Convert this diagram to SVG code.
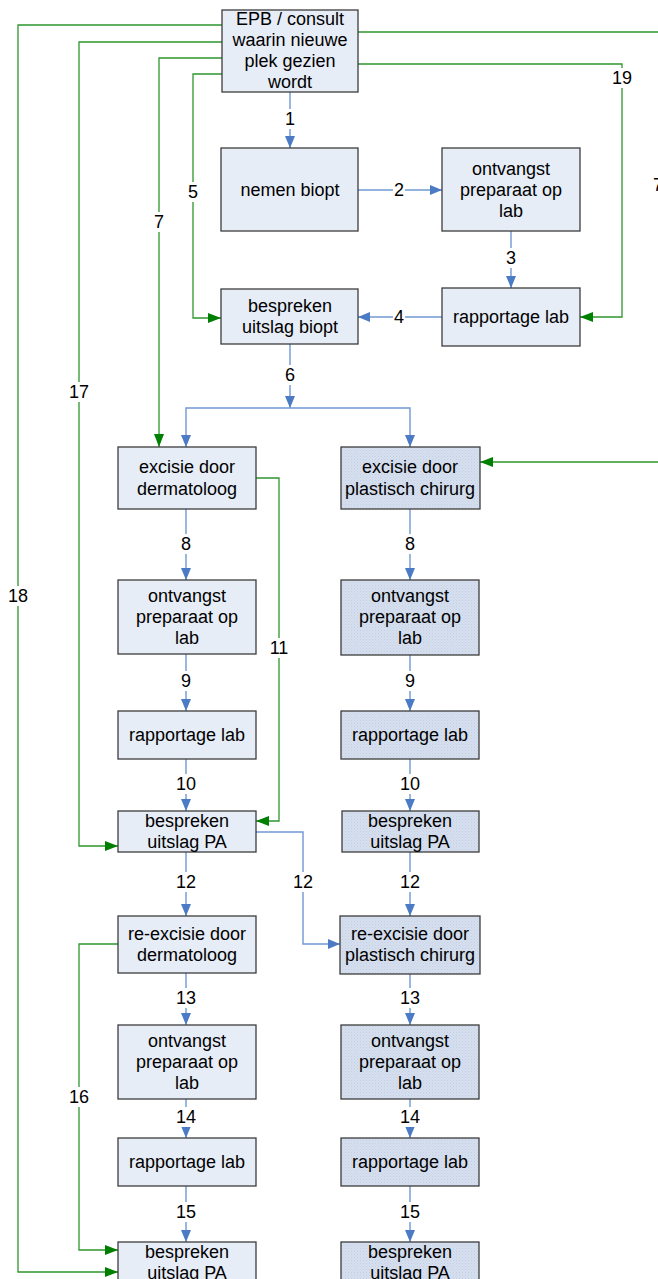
<svg xmlns="http://www.w3.org/2000/svg" width="658" height="1279" viewBox="0 0 658 1279">
  <style>
    .box { fill: #E7EDF7; stroke: #3C3C3C; stroke-width: 1.3; }
    .box2 { fill: url(#hatch); stroke: #3C3C3C; stroke-width: 1.3; }
    .t { font-family: "Liberation Sans", Arial, sans-serif; font-size: 18px; fill: #000; text-anchor: middle; }
    .blue { fill: none; stroke: #6F98D3; stroke-width: 1.4; marker-end: url(#ab); }
    .green { fill: none; stroke: #2E962E; stroke-width: 1.3; marker-end: url(#ag); }
    .lbg { fill: #FFFFFF; }
  </style>
  <defs>
    <pattern id="hatch" width="3" height="3" patternUnits="userSpaceOnUse">
      <rect width="3" height="3" fill="#D6DFEE"/>
      <rect x="0" y="0" width="1" height="1" fill="#C3CFE4"/>
      <rect x="1.5" y="1.5" width="1" height="1" fill="#C8D3E7"/>
    </pattern>
    <marker id="ab" markerUnits="userSpaceOnUse" markerWidth="12" markerHeight="10" refX="12" refY="5" orient="auto">
      <path d="M0,0 L12,5 L0,10 z" fill="#4A7BC4"/>
    </marker>
    <marker id="ag" markerUnits="userSpaceOnUse" markerWidth="13" markerHeight="10" refX="13" refY="5" orient="auto">
      <path d="M0,0 L13,5 L0,10 z" fill="#008000"/>
    </marker>
  </defs>

  <!-- connectors -->
  <g id="connectors">
    <!-- blue process flow -->
    <path class="blue" d="M290,92 V148"/>
    <path class="blue" d="M358,190 H442"/>
    <path class="blue" d="M511,231 V288"/>
    <path class="blue" d="M442,317 H358"/>
    <path class="blue" d="M290,344 V408"/>
    <path class="blue" d="M290,408 H186 V447"/>
    <path class="blue" d="M290,408 H410 V447"/>

    <path class="blue" d="M186,509 V580"/>
    <path class="blue" d="M186,654 V711"/>
    <path class="blue" d="M186,759 V811"/>
    <path class="blue" d="M186,852 V916"/>
    <path class="blue" d="M186,973 V1025"/>
    <path class="blue" d="M186,1099 V1138"/>
    <path class="blue" d="M186,1186 V1242"/>

    <path class="blue" d="M410,509 V580"/>
    <path class="blue" d="M410,655 V711"/>
    <path class="blue" d="M410,759 V811"/>
    <path class="blue" d="M410,852 V916"/>
    <path class="blue" d="M410,974 V1025"/>
    <path class="blue" d="M410,1099 V1138"/>
    <path class="blue" d="M410,1186 V1242"/>

    <path class="blue" d="M256,832 H303 V944 H340"/>

    <!-- green shortcuts -->
    <path class="green" d="M222,25 H18 V1272 H118"/>
    <path class="green" d="M222,42 H79 V846 H118"/>
    <path class="green" d="M222,58 H159 V447"/>
    <path class="green" d="M222,74 H193 V318 H221"/>
    <path class="green" d="M358,32 H664 V462 H480"/>
    <path class="green" d="M358,64 H622 V317 H580"/>
    <path class="green" d="M256,478 H279 V821 H256"/>
    <path class="green" d="M118,944 H79 V1250 H118"/>

    <!-- step numbers -->
    <g id="labels">
      <rect class="lbg" x="284" y="109" width="12" height="20"/><text class="t" x="290" y="125">1</text>
      <rect class="lbg" x="393" y="180" width="12" height="20"/><text class="t" x="399" y="196">2</text>
      <rect class="lbg" x="505" y="248" width="12" height="20"/><text class="t" x="511" y="264">3</text>
      <rect class="lbg" x="393" y="307" width="12" height="20"/><text class="t" x="399" y="323">4</text>
      <rect class="lbg" x="187" y="182" width="12" height="20"/><text class="t" x="193" y="198">5</text>
      <rect class="lbg" x="284" y="365" width="12" height="20"/><text class="t" x="290" y="381">6</text>
      <rect class="lbg" x="153" y="212" width="12" height="20"/><text class="t" x="159" y="228">7</text>
      <rect class="lbg" x="652" y="175" width="12" height="20"/><text class="t" x="658" y="191">7</text>

      <rect class="lbg" x="180" y="534" width="12" height="20"/><text class="t" x="186" y="550">8</text>
      <rect class="lbg" x="404" y="534" width="12" height="20"/><text class="t" x="410" y="550">8</text>
      <rect class="lbg" x="180" y="671" width="12" height="20"/><text class="t" x="186" y="687">9</text>
      <rect class="lbg" x="404" y="671" width="12" height="20"/><text class="t" x="410" y="687">9</text>
      <rect class="lbg" x="175" y="774" width="22" height="20"/><text class="t" x="186" y="790">10</text>
      <rect class="lbg" x="399" y="774" width="22" height="20"/><text class="t" x="410" y="790">10</text>
      <rect class="lbg" x="268" y="638" width="22" height="20"/><text class="t" x="279" y="654">11</text>
      <rect class="lbg" x="175" y="872" width="22" height="20"/><text class="t" x="186" y="888">12</text>
      <rect class="lbg" x="292" y="872" width="22" height="20"/><text class="t" x="303" y="888">12</text>
      <rect class="lbg" x="399" y="872" width="22" height="20"/><text class="t" x="410" y="888">12</text>
      <rect class="lbg" x="175" y="988" width="22" height="20"/><text class="t" x="186" y="1004">13</text>
      <rect class="lbg" x="399" y="988" width="22" height="20"/><text class="t" x="410" y="1004">13</text>
      <rect class="lbg" x="175" y="1107" width="22" height="20"/><text class="t" x="186" y="1123">14</text>
      <rect class="lbg" x="399" y="1107" width="22" height="20"/><text class="t" x="410" y="1123">14</text>
      <rect class="lbg" x="175" y="1202" width="22" height="20"/><text class="t" x="186" y="1218">15</text>
      <rect class="lbg" x="399" y="1202" width="22" height="20"/><text class="t" x="410" y="1218">15</text>
      <rect class="lbg" x="68" y="1087" width="22" height="20"/><text class="t" x="79" y="1103">16</text>
      <rect class="lbg" x="68" y="382" width="22" height="20"/><text class="t" x="79" y="398">17</text>
      <rect class="lbg" x="7" y="586" width="22" height="20"/><text class="t" x="18" y="602">18</text>
      <rect class="lbg" x="611" y="68" width="22" height="20"/><text class="t" x="622" y="84">19</text>
    </g>
  </g>

  <!-- top section -->
  <g id="epb">
    <rect class="box" x="222" y="10" width="136" height="82"/>
    <text class="t" x="290" y="25">EPB / consult</text>
    <text class="t" x="290" y="46">waarin nieuwe</text>
    <text class="t" x="290" y="67">plek gezien</text>
    <text class="t" x="290" y="88">wordt</text>
  </g>
  <g id="nemen-biopt">
    <rect class="box" x="221" y="148" width="137" height="83"/>
    <text class="t" x="290" y="196">nemen biopt</text>
  </g>
  <g id="ontvangst-biopt">
    <rect class="box" x="442" y="148" width="138" height="83"/>
    <text class="t" x="511" y="175">ontvangst</text>
    <text class="t" x="511" y="196">preparaat op</text>
    <text class="t" x="511" y="217">lab</text>
  </g>
  <g id="rapportage-biopt">
    <rect class="box" x="442" y="288" width="138" height="58"/>
    <text class="t" x="511" y="323">rapportage lab</text>
  </g>
  <g id="bespreken-biopt">
    <rect class="box" x="221" y="289" width="137" height="55"/>
    <text class="t" x="290" y="312">bespreken</text>
    <text class="t" x="290" y="333">uitslag biopt</text>
  </g>

  <!-- dermatologist column -->
  <g id="excisie-derm">
    <rect class="box" x="118" y="447" width="138" height="62"/>
    <text class="t" x="187" y="473">excisie door</text>
    <text class="t" x="187" y="495">dermatoloog</text>
  </g>
  <g id="ontvangst-derm">
    <rect class="box" x="118" y="580" width="138" height="74"/>
    <text class="t" x="187" y="602">ontvangst</text>
    <text class="t" x="187" y="623">preparaat op</text>
    <text class="t" x="187" y="644">lab</text>
  </g>
  <g id="rapportage-derm">
    <rect class="box" x="118" y="711" width="138" height="48"/>
    <text class="t" x="187" y="741">rapportage lab</text>
  </g>
  <g id="bespreken-derm">
    <rect class="box" x="118" y="811" width="138" height="41"/>
    <text class="t" x="187" y="827">bespreken</text>
    <text class="t" x="187" y="848">uitslag PA</text>
  </g>
  <g id="reexcisie-derm">
    <rect class="box" x="118" y="916" width="138" height="57"/>
    <text class="t" x="187" y="940">re-excisie door</text>
    <text class="t" x="187" y="961">dermatoloog</text>
  </g>
  <g id="ontvangst-derm-2">
    <rect class="box" x="118" y="1025" width="138" height="74"/>
    <text class="t" x="187" y="1047">ontvangst</text>
    <text class="t" x="187" y="1068">preparaat op</text>
    <text class="t" x="187" y="1089">lab</text>
  </g>
  <g id="rapportage-derm-2">
    <rect class="box" x="118" y="1138" width="138" height="48"/>
    <text class="t" x="187" y="1168">rapportage lab</text>
  </g>
  <g id="bespreken-derm-2">
    <rect class="box" x="118" y="1242" width="138" height="42"/>
    <text class="t" x="187" y="1258">bespreken</text>
    <text class="t" x="187" y="1279">uitslag PA</text>
  </g>

  <!-- plastic surgeon column -->
  <g id="excisie-plast">
    <rect class="box2" x="341" y="447" width="139" height="62"/>
    <text class="t" x="410" y="473">excisie door</text>
    <text class="t" x="410" y="495">plastisch chirurg</text>
  </g>
  <g id="ontvangst-plast">
    <rect class="box2" x="341" y="580" width="138" height="75"/>
    <text class="t" x="410" y="602">ontvangst</text>
    <text class="t" x="410" y="623">preparaat op</text>
    <text class="t" x="410" y="644">lab</text>
  </g>
  <g id="rapportage-plast">
    <rect class="box2" x="341" y="711" width="138" height="48"/>
    <text class="t" x="410" y="741">rapportage lab</text>
  </g>
  <g id="bespreken-plast">
    <rect class="box2" x="342" y="811" width="137" height="41"/>
    <text class="t" x="410" y="827">bespreken</text>
    <text class="t" x="410" y="848">uitslag PA</text>
  </g>
  <g id="reexcisie-plast">
    <rect class="box2" x="340" y="916" width="140" height="58"/>
    <text class="t" x="410" y="940">re-excisie door</text>
    <text class="t" x="410" y="961">plastisch chirurg</text>
  </g>
  <g id="ontvangst-plast-2">
    <rect class="box2" x="341" y="1025" width="138" height="74"/>
    <text class="t" x="410" y="1047">ontvangst</text>
    <text class="t" x="410" y="1068">preparaat op</text>
    <text class="t" x="410" y="1089">lab</text>
  </g>
  <g id="rapportage-plast-2">
    <rect class="box2" x="341" y="1138" width="138" height="48"/>
    <text class="t" x="410" y="1168">rapportage lab</text>
  </g>
  <g id="bespreken-plast-2">
    <rect class="box2" x="341" y="1242" width="138" height="42"/>
    <text class="t" x="410" y="1258">bespreken</text>
    <text class="t" x="410" y="1279">uitslag PA</text>
  </g>
</svg>
